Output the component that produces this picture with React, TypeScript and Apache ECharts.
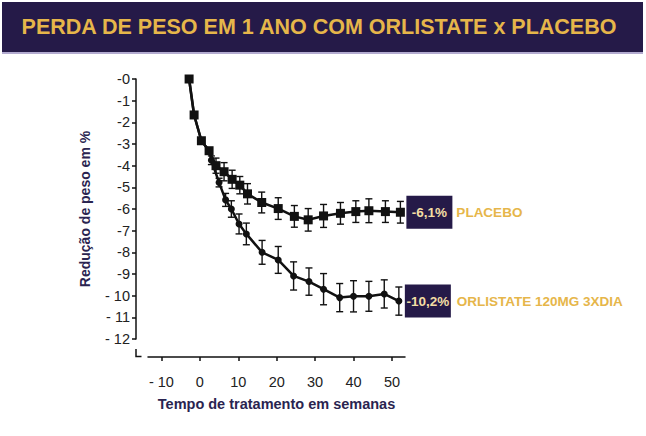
import React, { useEffect, useRef } from "react";
import * as echarts from "echarts";

// Weeks of treatment (x) and weight reduction in % (y)
const placeboWeeks = [-2.8, -1.5, 0.4, 2.4, 4.2, 6.3, 8.4, 10.4, 12.4, 16.1, 20.4, 24.6, 28.2, 32.2, 36.6, 40.6, 44, 48.3, 52.2];
const placeboValues = [0, -1.66, -2.85, -3.31, -4.0, -4.28, -4.63, -4.9, -5.3, -5.7, -5.98, -6.34, -6.5, -6.32, -6.2, -6.12, -6.08, -6.12, -6.15];
const placeboErrors = [0, 0, 0, 0, 0.35, 0.42, 0.42, 0.4, 0.47, 0.48, 0.5, 0.5, 0.52, 0.53, 0.5, 0.5, 0.55, 0.5, 0.5];

const orlistatWeeks = [-2.8, -1.5, 0.4, 2.4, 3, 5, 6.7, 8.2, 10.2, 12.1, 16.2, 20.4, 24.4, 28.4, 32.2, 36.4, 40, 44, 48, 51.8];
const orlistatValues = [0, -1.66, -2.85, -3.31, -3.75, -4.78, -5.58, -6.0, -6.69, -7.15, -8.0, -8.35, -9.09, -9.35, -9.7, -10.09, -10.03, -10.03, -9.92, -10.25];
const orlistatErrors = [0, 0, 0, 0, 0.2, 0.2, 0.3, 0.38, 0.46, 0.5, 0.55, 0.62, 0.65, 0.63, 0.72, 0.65, 0.72, 0.69, 0.65, 0.65];

const xTicks = [-10, 0, 10, 20, 30, 40, 50];

const placeboLabel = "-6,1%";
const placeboName = "PLACEBO";
const orlistatLabel = "-10,2%";
const orlistatName = "ORLISTATE 120MG 3XDIA";

const titleText = "PERDA DE PESO EM 1 ANO COM ORLISTATE x PLACEBO";
const xAxisTitle = "Tempo de tratamento em semanas";
const yAxisTitle = "Redução de peso em %";

const FONT = "'Liberation Sans', Arial, sans-serif";
const NAVY = "#251a48";
const GOLD = "#e6b64a";

function errorSeries(xs: number[], ys: number[], es: number[]) {
  return {
    type: "custom",
    z: 3,
    data: xs.map((x, i) => [x, ys[i], es[i]]),
    renderItem: (params: any, api: any) => {
      const x = api.value(0);
      const y = api.value(1);
      const e = api.value(2);
      if (!e) return null;
      const top = api.coord([x, y + e]);
      const bot = api.coord([x, y - e]);
      const hw = 3.5;
      const style = { stroke: "#111", lineWidth: 1.4 };
      return {
        type: "group",
        children: [
          { type: "line", shape: { x1: top[0], y1: top[1], x2: bot[0], y2: bot[1] }, style },
          { type: "line", shape: { x1: top[0] - hw, y1: top[1], x2: top[0] + hw, y2: top[1] }, style },
          { type: "line", shape: { x1: bot[0] - hw, y1: bot[1], x2: bot[0] + hw, y2: bot[1] }, style },
        ],
      };
    },
  };
}

function endLabel(value: string, name: string, pad: number) {
  return {
    show: true,
    distance: 6,
    formatter: () => `{box|${value}}{name|${name}}`,
    rich: {
      box: {
        backgroundColor: NAVY,
        color: "#f3dea4",
        fontFamily: FONT,
        fontWeight: "bold",
        fontSize: 13.5,
        width: 46,
        height: 33,
        lineHeight: 33,
        align: "center",
      },
      name: {
        color: GOLD,
        fontFamily: FONT,
        fontWeight: "bold",
        fontSize: 13.5,
        padding: [0, 0, 0, pad],
        lineHeight: 33,
      },
    },
  };
}

export default function App() {
  const ref = useRef<HTMLDivElement>(null);
  useEffect(() => {
    if (!ref.current) return;
    const chart = echarts.init(ref.current, null, { renderer: "svg" });
    chart.setOption({
      animation: false,
      backgroundColor: "#ffffff",
      graphic: [
        { type: "rect", shape: { x: 2, y: 2, width: 641, height: 50 }, style: { fill: NAVY } },
        { type: "rect", shape: { x: 2, y: 52, width: 641, height: 2 }, style: { fill: "#b3abd0" } },
        {
          type: "text",
          x: 319,
          y: 27,
          style: {
            text: titleText,
            fill: GOLD,
            font: `bold 21.5px ${FONT}`,
            textAlign: "center",
            textVerticalAlign: "middle",
          },
        },
        {
          type: "polyline",
          shape: { points: [[136, 349], [136, 356.5], [141.5, 356.5]] },
          style: { stroke: "#111", lineWidth: 1.5, fill: "none" },
        },
      ],
      grid: { left: 148, top: 79, width: 257, height: 260 },
      xAxis: {
        type: "value",
        min: -13.5,
        max: 53.4,
        offset: 18,
        splitLine: { show: false },
        axisLine: { onZero: false, lineStyle: { color: "#111", width: 1.5 } },
        axisTick: { show: true, customValues: xTicks, length: 4, lineStyle: { color: "#111", width: 1.5 } },
        axisLabel: {
          customValues: xTicks,
          color: "#222",
          fontFamily: FONT,
          fontSize: 14.5,
          margin: 17,
          formatter: (v: number) => (v < 0 ? "- " + Math.abs(v) : String(v)),
        },
        name: xAxisTitle,
        nameLocation: "middle",
        nameGap: 39,
        nameTextStyle: { color: "#2a2450", fontFamily: FONT, fontWeight: "bold", fontSize: 14.5 },
      },
      yAxis: {
        type: "value",
        min: -12,
        max: 0,
        interval: 1,
        offset: 12,
        splitLine: { show: false },
        axisLine: { show: true, onZero: false, lineStyle: { color: "#111", width: 1.5 } },
        axisTick: { show: true, length: 4, lineStyle: { color: "#111", width: 1.5 } },
        axisLabel: {
          color: "#222",
          fontFamily: FONT,
          fontSize: 14.5,
          margin: 6,
          formatter: (v: number) => {
            const a = Math.abs(v);
            return a >= 10 ? "- " + a : "-" + a;
          },
        },
        name: yAxisTitle,
        nameLocation: "middle",
        nameGap: 44,
        nameTextStyle: { color: "#2a2450", fontFamily: FONT, fontWeight: "bold", fontSize: 14 },
      },
      series: [
        errorSeries(placeboWeeks, placeboValues, placeboErrors),
        errorSeries(orlistatWeeks, orlistatValues, orlistatErrors),
        {
          type: "line",
          z: 4,
          data: orlistatWeeks.map((x, i) => [x, orlistatValues[i]]),
          symbol: "circle",
          symbolSize: 7,
          showAllSymbol: true,
          itemStyle: { color: "#111" },
          lineStyle: { color: "#111", width: 2.5 },
          endLabel: endLabel(orlistatLabel, orlistatName, 6),
        },
        {
          type: "line",
          z: 5,
          data: placeboWeeks.map((x, i) => [x, placeboValues[i]]),
          symbol: "rect",
          symbolSize: 9,
          showAllSymbol: true,
          itemStyle: { color: "#111" },
          lineStyle: { color: "#111", width: 2.5 },
          endLabel: endLabel(placeboLabel, placeboName, 4),
        },
      ],
    });
    return () => chart.dispose();
  }, []);
  return <div ref={ref} style={{ position: "fixed", left: 0, top: 0, width: 646, height: 436 }} />;
}
